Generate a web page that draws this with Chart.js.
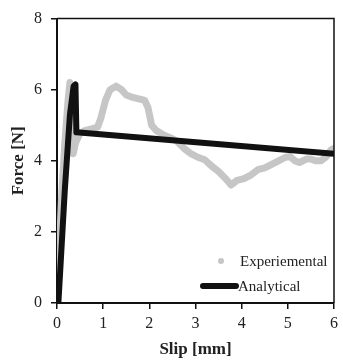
<!DOCTYPE html>
<html><head><meta charset="utf-8">
<script src="https://cdn.jsdelivr.net/npm/chart.js@4.4.0/dist/chart.umd.min.js"></script>
<style>html,body{margin:0;padding:0;background:#fff}#wrap{width:343px;height:360px}</style>
</head><body><div id="wrap"><canvas id="c" width="343" height="360"></canvas></div>
<script>
const seriesNames = ["Experiemental", "Analytical"];
const expX = [0,0.05,0.1,0.17,0.24,0.28,0.31,0.32,0.33,0.35,0.4,0.49,0.6,0.75,0.88,0.95,1.05,1.15,1.28,1.4,1.5,1.6,1.75,1.9,1.97,2.05,2.15,2.3,2.45,2.6,2.75,2.9,3.05,3.2,3.35,3.5,3.65,3.77,3.9,4.05,4.2,4.35,4.5,4.65,4.8,4.95,5.05,5.15,5.25,5.4,5.5,5.6,5.72,5.82,5.93,6.0];
const expY = [0,1.5,3.0,4.5,5.7,6.2,6.1,5.2,4.5,4.2,4.5,4.75,4.85,4.9,4.95,5.2,5.7,6.0,6.1,6.0,5.85,5.8,5.75,5.7,5.5,5.0,4.85,4.73,4.65,4.55,4.35,4.2,4.1,4.03,3.85,3.7,3.5,3.32,3.45,3.5,3.6,3.75,3.8,3.9,4.0,4.1,4.12,4.0,3.95,4.05,4.05,4.0,4.0,4.1,4.3,4.35];
const anaX = [0.03,0.1,0.17,0.28,0.36,0.4,0.42,6.0];
const anaY = [0,1.6,3.2,5.3,6.1,6.15,4.8,4.2];
const xTicks = [0,1,2,3,4,5,6];
const yTicks = [0,2,4,6,8];

const toPts = (xs, ys) => xs.map((x, i) => ({x: x, y: ys[i]}));
const serif = "'Liberation Serif','Times New Roman',serif";

const boxPlugin = {
  id: 'box',
  afterDraw(chart) {
    const {ctx, chartArea: a} = chart;
    ctx.save();
    ctx.strokeStyle = '#111';
    ctx.lineWidth = 1.5;
    ctx.beginPath();
    ctx.moveTo(a.left, a.top); ctx.lineTo(a.right, a.top); ctx.lineTo(a.right, a.bottom);
    ctx.stroke();
    // legend
    const lx = 221, ly1 = 261, ly2 = 286;
    ctx.fillStyle = '#c6c6c6';
    ctx.beginPath(); ctx.arc(lx, ly1, 3, 0, Math.PI * 2); ctx.fill();
    ctx.strokeStyle = '#111'; ctx.lineWidth = 6; ctx.lineCap = 'round';
    ctx.beginPath(); ctx.moveTo(203, ly2); ctx.lineTo(236, ly2); ctx.stroke();
    ctx.fillStyle = '#222';
    ctx.font = "15px " + serif;
    ctx.textBaseline = 'middle';
    ctx.fillText(seriesNames[0], 240, ly1 + 1);
    ctx.fillText(seriesNames[1], 238, ly2 + 1);
    ctx.restore();
  }
};

new Chart(document.getElementById('c'), {
  type: 'scatter',
  data: {
    datasets: [
      {label: seriesNames[0], order: 2, data: toPts(expX, expY), showLine: true, borderColor: '#c6c6c6', borderWidth: 7, pointRadius: 0, tension: 0, borderJoinStyle: 'round', borderCapStyle: 'round'},
      {label: seriesNames[1], order: 1, data: toPts(anaX, anaY), showLine: true, borderColor: '#111', borderWidth: 6, pointRadius: 0, tension: 0, borderJoinStyle: 'round', borderCapStyle: 'round'}
    ]
  },
  options: {
    responsive: false,
    animation: false,
    devicePixelRatio: 1,
    layout: {padding: {top: 14, right: 1, left: 0, bottom: 0}},
    plugins: {legend: {display: false}, tooltip: {enabled: false}},
    scales: {
      x: {
        type: 'linear', min: 0, max: 6,
        afterBuildTicks: ax => { ax.ticks = xTicks.map(v => ({value: v})); },
        afterFit: ax => { ax.height = 57; },
        grid: {drawOnChartArea: false, drawTicks: true, tickLength: 6, color: '#111', tickColor: '#111', lineWidth: 1.5},
        border: {color: '#111', width: 2},
        ticks: {color: '#222', font: {family: serif, size: 16}, padding: 5},
        title: {display: true, text: 'Slip [mm]', color: '#222', font: {family: serif, size: 17, weight: 'bold'}, padding: {top: 2, bottom: 0}}
      },
      y: {
        type: 'linear', min: 0, max: 8,
        afterBuildTicks: ax => { ax.ticks = yTicks.map(v => ({value: v})); },
        afterFit: ax => { ax.width = 57; },
        grid: {drawOnChartArea: false, drawTicks: true, tickLength: 6, color: '#111', tickColor: '#111', lineWidth: 1.5},
        border: {color: '#111', width: 2},
        ticks: {color: '#222', font: {family: serif, size: 16}, padding: 9},
        title: {display: true, text: 'Force [N]', color: '#222', font: {family: serif, size: 17, weight: 'bold'}, padding: {top: 8, bottom: 0}}
      }
    }
  },
  plugins: [boxPlugin]
});
</script></body></html>
